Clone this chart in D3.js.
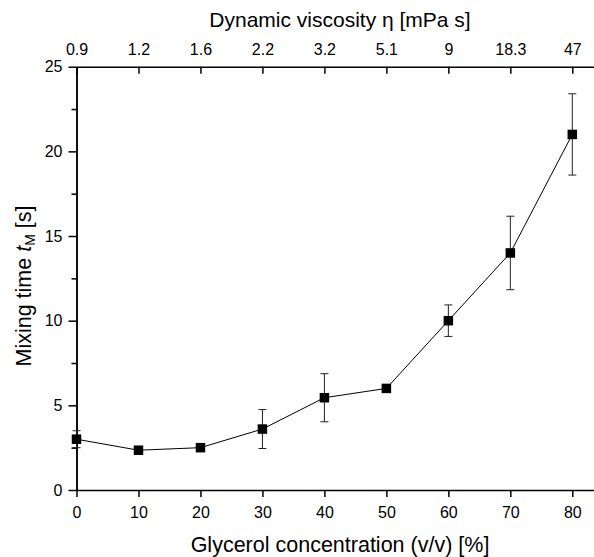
<!DOCTYPE html>
<html>
<head>
<meta charset="utf-8">
<script src="https://cdn.jsdelivr.net/npm/d3@7"></script>
<style>
  body { margin: 0; background: #fff; }
  text { font-family: Arial, "Liberation Sans", sans-serif; fill: #000; }
</style>
</head>
<body>
<svg width="594" height="557"></svg>
<script>
const concentration = [0, 10, 20, 30, 40, 50, 60, 70, 80];
const viscosityLabels = ['0.9', '1.2', '1.6', '2.2', '3.2', '5.1', '9', '18.3', '47'];
const mixingTime = [3.0, 2.35, 2.5, 3.6, 5.45, 6.0, 10.0, 14.0, 21.0];
const mixingErr = [0.5, 0.12, 0.1, 1.15, 1.42, 0.15, 0.93, 2.17, 2.4];
const yMajor = [0, 5, 10, 15, 20, 25];
const yMinor = [2.5, 7.5, 12.5, 17.5, 22.5];

const svg = d3.select('svg');

// axes run past the 80 % tick to the right edge of the picture
const x = d3.scaleLinear().domain([0, 85]).range([76.5, 603.3]);
const y = d3.scaleLinear().domain([0, 25]).range([490, 66.7]);

const points = concentration.map((c, i) => ({ c, t: mixingTime[i], e: mixingErr[i] }));

const styleAxis = g => {
    g.selectAll('path').attr('stroke', '#000').attr('stroke-width', 1.5);
    g.selectAll('line').attr('stroke', '#000').attr('stroke-width', 1.5);
    g.selectAll('text').attr('font-size', 16).attr('fill', '#000')
        .attr('font-family', 'Arial, "Liberation Sans", sans-serif');
};

svg.append('g')
    .attr('transform', `translate(0,${y(0)})`)
    .call(d3.axisBottom(x).tickValues(concentration).tickSize(7).tickSizeOuter(0).tickPadding(10))
    .call(styleAxis);

// top axis: viscosity labels, ticks pointing inward
svg.append('g')
    .attr('transform', `translate(0,${y(25)})`)
    .call(d3.axisTop(x).tickValues(concentration)
        .tickFormat((d, i) => viscosityLabels[i])
        .tickSize(-7).tickSizeOuter(0).tickPadding(12))
    .call(styleAxis);

svg.append('g')
    .attr('transform', `translate(${x(0)},0)`)
    .call(d3.axisLeft(y).tickValues(yMinor).tickSize(5).tickSizeOuter(0).tickFormat(''))
    .call(styleAxis);

svg.append('g')
    .attr('transform', `translate(${x(0)},0)`)
    .call(d3.axisLeft(y).tickValues(yMajor).tickSize(8).tickSizeOuter(0).tickPadding(6))
    .call(styleAxis);

svg.append('path')
    .datum(points)
    .attr('fill', 'none')
    .attr('stroke', '#000')
    .attr('stroke-width', 1)
    .attr('d', d3.line().x(d => x(d.c)).y(d => y(d.t)));

// error bars
const err = svg.append('g').attr('stroke', '#222').attr('stroke-width', 1);
err.selectAll('.stem').data(points).enter().append('line')
    .attr('x1', d => x(d.c)).attr('x2', d => x(d.c))
    .attr('y1', d => y(d.t - d.e)).attr('y2', d => y(d.t + d.e));
err.selectAll('.capTop').data(points).enter().append('line')
    .attr('x1', d => x(d.c) - 4).attr('x2', d => x(d.c) + 4)
    .attr('y1', d => y(d.t + d.e)).attr('y2', d => y(d.t + d.e));
err.selectAll('.capBot').data(points).enter().append('line')
    .attr('x1', d => x(d.c) - 4).attr('x2', d => x(d.c) + 4)
    .attr('y1', d => y(d.t - d.e)).attr('y2', d => y(d.t - d.e));

svg.selectAll('rect.pt').data(points).enter().append('rect')
    .attr('class', 'pt')
    .attr('x', d => x(d.c) - 4.75)
    .attr('y', d => y(d.t) - 4.75)
    .attr('width', 9.5)
    .attr('height', 9.5)
    .attr('fill', '#000');

// titles
svg.append('text')
    .attr('x', 340).attr('y', 552)
    .attr('text-anchor', 'middle')
    .attr('font-size', 21.5)
    .text('Glycerol concentration (v/v) [%]');

svg.append('text')
    .attr('x', 340).attr('y', 27)
    .attr('text-anchor', 'middle')
    .attr('font-size', 21)
    .text('Dynamic viscosity η [mPa s]');

const yTitle = svg.append('text')
    .attr('transform', 'translate(31,286) rotate(-90)')
    .attr('text-anchor', 'middle')
    .attr('font-size', 21.5);
yTitle.append('tspan').text('Mixing time ');
yTitle.append('tspan').attr('font-style', 'italic').text('t');
yTitle.append('tspan').attr('font-size', 14).attr('dy', 4).text('M');
yTitle.append('tspan').attr('dy', -4).text(' [s]');
</script>
</body>
</html>
